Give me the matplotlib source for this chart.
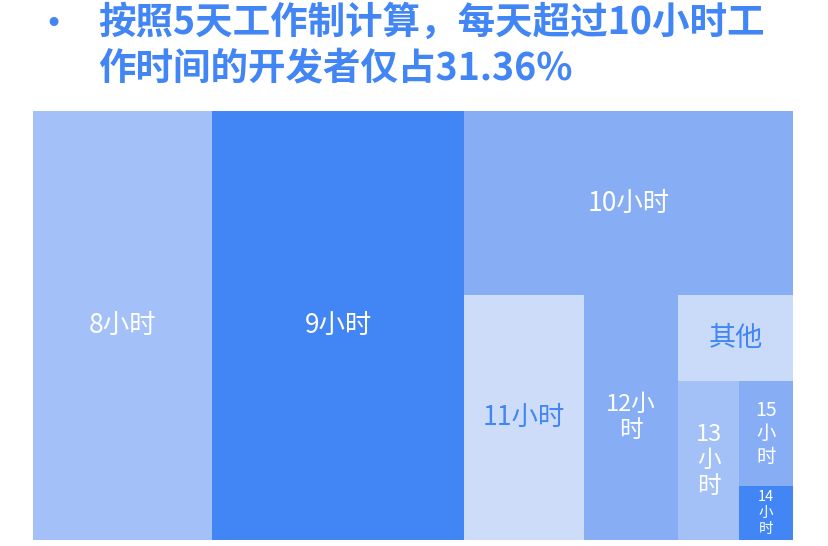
import matplotlib
matplotlib.use("Agg")
import matplotlib.pyplot as plt
from matplotlib.patches import Rectangle
from matplotlib.font_manager import FontProperties

plt.rcParams['font.family'] = ['Noto Sans CJK SC', 'DejaVu Sans']

# 每天工作时长分布（占比 %，从图中估读）
categories = ['8小时', '9小时', '10小时', '11小时', '12小时', '其他', '13小时', '15小时', '14小时']
shares = [23.55, 33.16, 18.57, 9.02, 7.06, 3.03, 2.97, 1.74, 0.89]

title = '按照5天工作制计算，每天超过10小时工\n作时间的开发者仅占31.36%'

# 嵌套分组：每一层交替横向/纵向切分
groups = ['8小时', '9小时', ['10小时', ['11小时', '12小时', ['其他', ['13小时', ['15小时', '14小时']]]]]]

BLUE = '#4285f4'
colors = {
    '8小时': '#a3c1f8', '9小时': '#4285f4', '10小时': '#87aef5',
    '11小时': '#cddcf9', '12小时': '#87aef5', '其他': '#cadbf9',
    '13小时': '#a3c1f7', '15小时': '#87aef5', '14小时': '#4285f4',
}
text_colors = {'11小时': BLUE, '其他': BLUE}
font_sizes = {'12小时': 17, '13小时': 17, '15小时': 14, '14小时': 10.5, '其他': 19.5}

value_of = dict(zip(categories, shares))


def group_value(node):
    if isinstance(node, list):
        return sum(group_value(c) for c in node)
    return value_of[node]


def slice_dice(node, x, y, w, h, horizontal, out):
    total = group_value(node)
    offset = 0.0
    for child in node:
        v = group_value(child)
        if horizontal:
            cw = w * v / total
            rect = (x + offset, y, cw, h)
            offset += cw
        else:
            ch = h * v / total
            rect = (x, y + offset, w, ch)
            offset += ch
        if isinstance(child, list):
            slice_dice(child, *rect, not horizontal, out)
        else:
            out[child] = rect


def wrap_label(text, size, max_px, renderer):
    prop = FontProperties(family=['Noto Sans CJK SC'], size=size)
    lines, cur = [], ''
    for ch in text:
        trial = cur + ch
        w, _, _ = renderer.get_text_width_height_descent(trial, prop, ismath=False)
        if cur and w > max_px:
            lines.append(cur)
            cur = ch
        else:
            cur = trial
    lines.append(cur)
    return '\n'.join(lines)


fig = plt.figure(figsize=(8.29, 5.46), dpi=100)
W, H = 760, 429
ax = fig.add_axes([33 / 829, 6 / 546, W / 829, H / 546])
ax.set_xlim(0, W)
ax.set_ylim(H, 0)
ax.axis('off')

rects = {}
slice_dice(groups, 0, 0, W, H, True, rects)

renderer = fig.canvas.get_renderer()
for name in categories:
    x, y, w, h = rects[name]
    ax.add_patch(Rectangle((x, y), w, h, facecolor=colors[name], edgecolor='none'))
    size = font_sizes.get(name, 19)
    label = wrap_label(name, size, w - 30, renderer)
    ax.text(x + w / 2, y + h / 2, label, ha='center', va='center', fontsize=size,
            color=text_colors.get(name, 'white'), linespacing=1.15, multialignment='center')

fig.text(53 / 829, 1 - 25 / 546, '•', color=BLUE, fontsize=22, ha='center', va='center',
         family=['DejaVu Sans'])
fig.text(98 / 829, 1 - 45 / 546, title, color=BLUE, fontsize=27, fontweight='bold',
         ha='left', va='center', linespacing=1.2)

fig.savefig('out.png', dpi=100)
